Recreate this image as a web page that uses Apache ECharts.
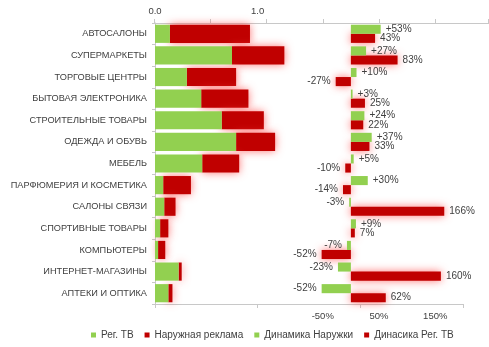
<!DOCTYPE html>
<html><head><meta charset="utf-8">
<script src="https://cdn.jsdelivr.net/npm/echarts@6/dist/echarts.min.js"></script>
<style>html,body{margin:0;padding:0;background:#fff}#c{width:489px;height:347px}</style>
</head><body><div id="c"></div>
<script>
const categories = ['АВТОСАЛОНЫ','СУПЕРМАРКЕТЫ','ТОРГОВЫЕ ЦЕНТРЫ','БЫТОВАЯ ЭЛЕКТРОНИКА','СТРОИТЕЛЬНЫЕ ТОВАРЫ','ОДЕЖДА И ОБУВЬ','МЕБЕЛЬ','ПАРФЮМЕРИЯ И КОСМЕТИКА','САЛОНЫ СВЯЗИ','СПОРТИВНЫЕ ТОВАРЫ','КОМПЬЮТЕРЫ','ИНТЕРНЕТ-МАГАЗИНЫ','АПТЕКИ И ОПТИКА'];
const regTV = [0.145, 0.75, 0.31, 0.45, 0.65, 0.79, 0.46, 0.08, 0.09, 0.05, 0.03, 0.23, 0.13];
const outdoor = [0.78, 0.51, 0.48, 0.46, 0.41, 0.38, 0.36, 0.27, 0.11, 0.08, 0.07, 0.03, 0.04];
const outdoorGrowth = [53, 27, 10, 3, 24, 37, 5, 30, -3, 9, -7, -23, -52];
const tvGrowth = [43, 83, -27, 25, 22, 33, -10, -14, 166, 7, -52, 160, 62];
const leftTickLabels = ['0.0', '1.0'];
const rightTickLabels = ['-50%', '50%', '150%'];
const seriesNames = ['Рег. ТВ', 'Наружная реклама', 'Динамика Наружки', 'Динасика Рег. ТВ'];

const GREEN = '#92D050', RED = '#C00000', TXT = '#404040', AX = '#C8C8C8';
const FONT = 'Liberation Sans, Arial, sans-serif';
const glow = {color: RED, shadowBlur: 9, shadowOffsetX: 0, shadowOffsetY: 0, shadowColor: 'rgba(255,70,70,0.75)'};

function growthData(arr, plus) {
  return arr.map(v => ({
    value: v,
    label: {position: v < 0 ? 'left' : 'right',
            formatter: (plus && v > 0 ? '+' : '') + v + '%'}
  }));
}

const chart = echarts.init(document.getElementById('c'), null, {renderer: 'canvas'});
chart.setOption({
  animation: false,
  textStyle: {fontFamily: FONT},
  grid: [
    {left: 155, top: 23, width: 308, height: 281},
    {left: 154, top: 23, width: 334.7, height: 281}
  ],
  xAxis: [
    {gridIndex: 0, type: 'value', position: 'bottom', min: 0, max: 3, interval: 1,
     axisLine: {show: true, lineStyle: {color: AX}}, axisTick: {show: true, length: 4, lineStyle: {color: AX}},
     axisLabel: {show: false}, splitLine: {show: false}},
    {gridIndex: 0, type: 'value', position: 'top', min: 0, max: 3, interval: 1,
     axisLine: {show: false}, axisTick: {show: false}, splitLine: {show: false},
     axisLabel: {margin: 7, fontSize: 9.5, color: TXT, fontFamily: FONT,
       formatter: v => (v < leftTickLabels.length ? leftTickLabels[v] : '')}},
    {gridIndex: 1, type: 'value', position: 'top', min: -350, max: 245, interval: 100,
     axisLine: {show: true, lineStyle: {color: AX}}, axisTick: {show: true, length: 4, lineStyle: {color: AX}},
     axisLabel: {show: false}, splitLine: {show: false}},
    {gridIndex: 1, type: 'value', position: 'bottom', min: -350, max: 245, interval: 100,
     axisLine: {show: false}, axisTick: {show: false}, splitLine: {show: false},
     axisLabel: {margin: 7, fontSize: 9.5, color: TXT, fontFamily: FONT, showMaxLabel: false,
       formatter: v => { const s = v + '%'; return rightTickLabels.indexOf(s) >= 0 ? s : ''; }}}
  ],
  yAxis: [
    {gridIndex: 0, type: 'category', data: categories, inverse: true,
     axisLine: {show: true, lineStyle: {color: AX}}, axisTick: {show: true, length: 3, lineStyle: {color: AX}},
     axisLabel: {margin: 8, fontSize: 9.2, color: TXT, fontFamily: FONT}},
    {gridIndex: 1, type: 'category', data: categories, inverse: true, show: false}
  ],
  legend: {
    left: 86, top: 325, itemWidth: 5, itemHeight: 5, itemGap: 11, icon: 'rect',
    textStyle: {fontSize: 10, color: TXT, fontFamily: FONT},
    data: seriesNames
  },
  series: [
    {name: seriesNames[0], type: 'bar', xAxisIndex: 0, yAxisIndex: 0, stack: 'a', data: regTV, z: 3,
     itemStyle: {color: GREEN}, barCategoryGap: '16%'},
    {name: seriesNames[1], type: 'bar', xAxisIndex: 0, yAxisIndex: 0, stack: 'a', data: outdoor, z: 2,
     itemStyle: glow, barCategoryGap: '16%', clip: false},
    {name: seriesNames[2], type: 'bar', xAxisIndex: 2, yAxisIndex: 1, data: growthData(outdoorGrowth, true), z: 3,
     itemStyle: {color: GREEN}, barGap: '0%', barCategoryGap: '16%',
     label: {show: true, distance: 5, fontSize: 10, color: TXT, fontFamily: FONT}},
    {name: seriesNames[3], type: 'bar', xAxisIndex: 2, yAxisIndex: 1, data: growthData(tvGrowth, false), z: 2,
     itemStyle: glow, barGap: '0%', barCategoryGap: '16%', clip: false,
     label: {show: true, distance: 5, fontSize: 10, color: TXT, fontFamily: FONT}}
  ]
});
</script></body></html>
